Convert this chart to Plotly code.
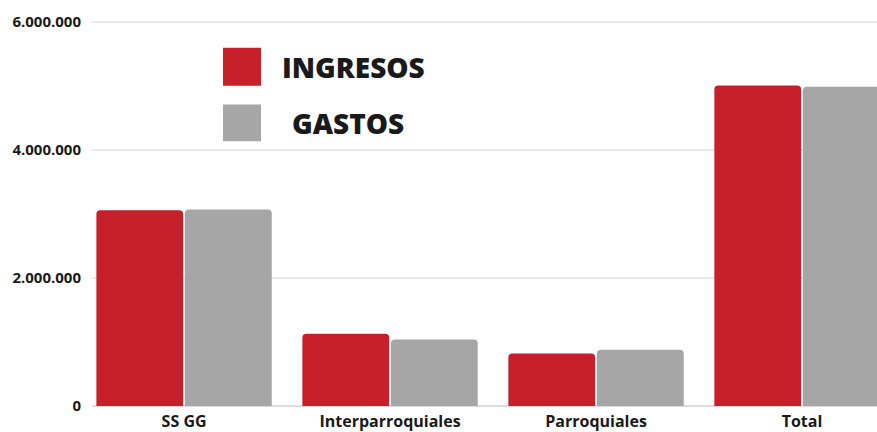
import plotly.graph_objects as go

# data
categories = ["SS GG", "Interparroquiales", "Parroquiales", "Total"]
ingresos = [3060000, 1130000, 820000, 5010000]
gastos = [3070000, 1040000, 880000, 4990000]
y_ticks = [0, 2000000, 4000000, 6000000]

RED = "#C8202A"
GREY = "#A6A6A6"

fig = go.Figure()
fig.add_trace(go.Bar(x=categories, y=ingresos, name="INGRESOS",
                     marker=dict(color=RED, line=dict(width=0))))
fig.add_trace(go.Bar(x=categories, y=gastos, name="GASTOS",
                     marker=dict(color=GREY, line=dict(width=0))))

# legend drawn by hand so the swatches can be large (paper coords of a 785px wide plot)
legend_items = [("INGRESOS", RED, 0.9254, 0.8278, 0.2395),
                ("GASTOS", GREY, 0.7789, 0.6838, 0.2522)]
for label, color, top, bottom, tx in legend_items:
    fig.add_shape(type="rect", xref="paper", yref="paper",
                  x0=0.1669, x1=0.2153, y0=bottom, y1=top,
                  fillcolor=color, line=dict(width=0))
    fig.add_annotation(xref="paper", yref="paper", x=tx, y=(top + bottom) / 2,
                       text=label, showarrow=False, xanchor="left", yanchor="middle",
                       font=dict(family="Open Sans", size=28, color="#1a1a1a", weight=800))

# reference is cropped on the right, so the category range runs past the edge
fig.update_layout(
    width=877, height=432,
    margin=dict(l=92, r=0, t=19, b=24),
    paper_bgcolor="white", plot_bgcolor="white",
    barmode="group", bargap=0.14, bargroupgap=0.02,
    barcornerradius=4,
    showlegend=False,
    separators=",.",
    xaxis=dict(range=[-0.447, 3.364], showgrid=False, showline=False,
               ticks="", ticklabelstandoff=4,
               tickfont=dict(family="Open Sans", size=16, color="#1a1a1a", weight="bold")),
    yaxis=dict(range=[0, 6050000], tickvals=y_ticks, tickformat=",d",
               showgrid=True, gridcolor="#e8e8e8", gridwidth=1.5,
               zeroline=True, zerolinecolor="#dcdcdc", zerolinewidth=2,
               ticks="", ticklabelstandoff=10,
               tickfont=dict(family="Open Sans", size=15, color="#1a1a1a", weight="bold")),
)

fig.write_html("out.html", config={"displayModeBar": False},
               post_script="document.body.style.margin='0';document.body.style.overflow='hidden';")
